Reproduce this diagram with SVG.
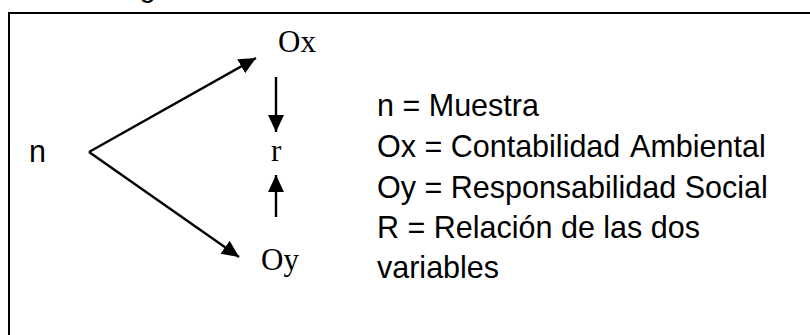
<svg xmlns="http://www.w3.org/2000/svg" width="810" height="335" viewBox="0 0 810 335">
  <style>
    .sans { font-family: "Liberation Sans", Arial, sans-serif; font-size: 30.5px; fill: #000; }
    .serif { font-family: "Liberation Serif", "Times New Roman", serif; font-size: 31px; fill: #000; }
    .edge { stroke: #000; stroke-width: 2.4; fill: none; marker-end: url(#head); }
  </style>
  <defs>
    <marker id="head" markerUnits="userSpaceOnUse" markerWidth="20" markerHeight="18" refX="17" refY="8" orient="auto">
      <path d="M0,0 L17,8 L0,16 z" fill="#000"/>
    </marker>
  </defs>
  <rect width="810" height="335" fill="#fff"/>

  <!-- heading line above the frame (only a descender shows) -->
  <text class="sans" x="139" y="-4">g</text>

  <!-- frame -->
  <rect x="9" y="13" width="830" height="340" fill="none" stroke="#000" stroke-width="2"/>

  <g id="node-n"><text class="sans" x="29" y="162" font-size="32">n</text></g>
  <g id="node-ox"><text class="serif" x="278" y="52">Ox</text></g>
  <g id="node-r"><text class="serif" x="271" y="161">r</text></g>
  <g id="node-oy"><text class="serif" x="261" y="270">Oy</text></g>

  <g id="connectors">
    <line class="edge" x1="89" y1="152" x2="256" y2="58"/>
    <line class="edge" x1="89" y1="152" x2="239" y2="257"/>
    <line class="edge" x1="276" y1="77" x2="276" y2="132"/>
    <line class="edge" x1="276" y1="217" x2="276" y2="175"/>
  </g>

  <g id="legend">
    <text class="sans" x="377" y="116">n = Muestra</text>
    <text class="sans" x="377" y="157">Ox = Contabilidad <tspan dx="3">Ambiental</tspan></text>
    <text class="sans" x="377" y="197.5">Oy = Responsabilidad Social</text>
    <text class="sans" x="377" y="238">R = Relación de las dos</text>
    <text class="sans" x="377" y="278">variables</text>
  </g>
</svg>
